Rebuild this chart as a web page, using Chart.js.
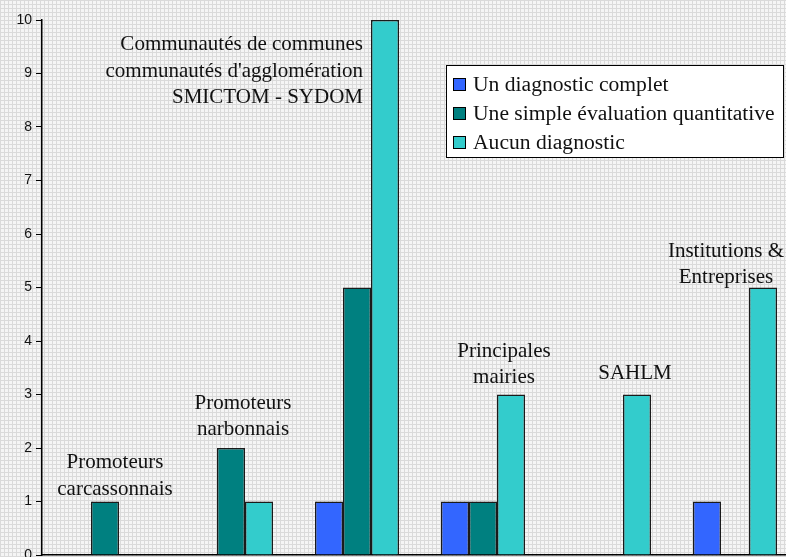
<!DOCTYPE html>
<html>
<head>
<meta charset="utf-8">
<script src="https://cdn.jsdelivr.net/npm/chart.js@4.4.1/dist/chart.umd.min.js"></script>
<style>
  html, body { margin: 0; padding: 0; background: #e8e8e8; }
  #wrap { width: 786px; height: 557px; overflow: hidden; position: relative; }
  #chart { display: block; }
</style>
</head>
<body>
<div id="wrap"><canvas id="chart" width="800" height="570"></canvas></div>
<script>
// --- DATA ---
const groupLabels = [
    ['Promoteurs', 'carcassonnais'],
    ['Promoteurs', 'narbonnais'],
    ['Communautés de communes', "communautés d'agglomération", 'SMICTOM - SYDOM'],
    ['Principales', 'mairies'],
    ['SAHLM'],
    ['Institutions &', 'Entreprises'],
];
const seriesNames = ['Un diagnostic complet', 'Une simple évaluation quantitative', 'Aucun diagnostic'];
const diagComplet = [0, 0, 1, 1, 0, 1];
const evalQuant   = [1, 2, 5, 1, 0, 0];
const aucunDiag   = [0, 1, 10, 3, 3, 5];
const yTicks      = [0, 1, 2, 3, 4, 5, 6, 7, 8, 9, 10];

const colors = ['#3366ff', '#008080', '#33cccc'];
const serif = '"Liberation Serif", "Times New Roman", serif';

Chart.defaults.font.family = 'Liberation Sans';
Chart.defaults.font.size = 14;
Chart.defaults.color = '#111';

// where each group caption sits: offset from category centre, value on the y scale, alignment
const captionPos = [
    { dx: 10,  y: 1.72, align: 'center' },
    { dx: 12,  y: 2.84, align: 'center' },
    { dx: 6,   y: 9.54, align: 'right'  },
    { dx: 21,  y: 3.81, align: 'center' },
    { dx: 26,  y: 3.39, align: 'center' },
    { dx: -9,  y: 5.68, align: 'center' },
];

// --- BACKGROUND PATTERN (fine grey grid) ---
function makePattern(ctx) {
    const p = document.createElement('canvas');
    p.width = 4; p.height = 4;
    const c = p.getContext('2d');
    c.fillStyle = '#f5f5f5';
    c.fillRect(0, 0, 4, 4);
    c.fillStyle = '#dadada';
    c.fillRect(0, 0, 4, 1);
    c.fillRect(0, 0, 1, 4);
    return ctx.createPattern(p, 'repeat');
}

const bgPlugin = {
    id: 'bg',
    beforeDraw(chart) {
        const ctx = chart.ctx;
        ctx.save();
        ctx.fillStyle = makePattern(ctx);
        ctx.fillRect(0, 0, chart.width, chart.height);
        ctx.restore();
    }
};

const captionPlugin = {
    id: 'captions',
    afterDatasetsDraw(chart) {
        const ctx = chart.ctx;
        const x = chart.scales.x, y = chart.scales.y;
        ctx.save();
        ctx.font = '21px ' + serif;
        ctx.fillStyle = '#111';
        ctx.textBaseline = 'middle';
        groupLabels.forEach((lines, i) => {
            const p = captionPos[i];
            const cx = x.getPixelForValue(i) + p.dx;
            const top = y.getPixelForValue(p.y);
            ctx.textAlign = p.align;
            lines.forEach((ln, k) => {
                ctx.fillText(ln, cx, top + k * 26.5);
            });
        });
        ctx.restore();
    }
};

// legend drawn as a boxed panel inside the plot
const legendPlugin = {
    id: 'boxLegend',
    afterDraw(chart) {
        const ctx = chart.ctx;
        const left = 446, top = 65, w = 337, h = 92;
        ctx.save();
        ctx.fillStyle = '#ffffff';
        ctx.fillRect(left, top, w, h);
        ctx.strokeStyle = '#000';
        ctx.lineWidth = 1;
        ctx.strokeRect(left + 0.5, top + 0.5, w, h);
        ctx.font = '21.6px ' + serif;
        ctx.textAlign = 'left';
        ctx.textBaseline = 'middle';
        chart.data.datasets.forEach((ds, i) => {
            const cy = top + 19 + i * 29;
            ctx.fillStyle = ds.backgroundColor;
            ctx.fillRect(left + 7, cy - 6, 12, 12);
            ctx.strokeStyle = '#000';
            ctx.strokeRect(left + 7.5, cy - 5.5, 12, 12);
            ctx.fillStyle = '#111';
            ctx.fillText(ds.label, left + 27, cy + 1);
        });
        ctx.restore();
    }
};

new Chart(document.getElementById('chart'), {
    type: 'bar',
    data: {
        labels: groupLabels.map(l => l.join(' ')),
        datasets: [diagComplet, evalQuant, aucunDiag].map((d, i) => ({
            label: seriesNames[i],
            data: d,
            backgroundColor: colors[i],
            borderColor: '#1a1a1a',
            borderWidth: 1.5,
            borderSkipped: 'bottom',
            categoryPercentage: 0.667,
            barPercentage: 1.0,
        }))
    },
    options: {
        responsive: false,
        animation: false,
        layout: { padding: { top: 20, right: 2, bottom: 15, left: 0 } },
        plugins: { legend: { display: false }, tooltip: { enabled: false } },
        scales: {
            x: {
                ticks: { display: false },
                grid: { display: false },
                border: { display: true, color: '#000', width: 1.5 },
                afterFit: s => { s.height = 0; s.paddingLeft = 0; s.paddingRight = 0; }
            },
            y: {
                min: 0, max: 10,
                afterBuildTicks: s => { s.ticks = yTicks.map(v => ({ value: v, label: String(v) })); },
                ticks: {
                    color: '#111',
                    font: { size: 14 },
                    padding: 4,
                    callback: v => String(v),
                },
                grid: { drawOnChartArea: false, drawTicks: true, tickLength: 6, color: '#000' },
                border: { display: true, color: '#000', width: 1.5 },
                afterFit: s => { s.width = 42; s.paddingTop = 0; s.paddingBottom = 0; }
            }
        }
    },
    plugins: [bgPlugin, captionPlugin, legendPlugin]
});
</script>
</body>
</html>
